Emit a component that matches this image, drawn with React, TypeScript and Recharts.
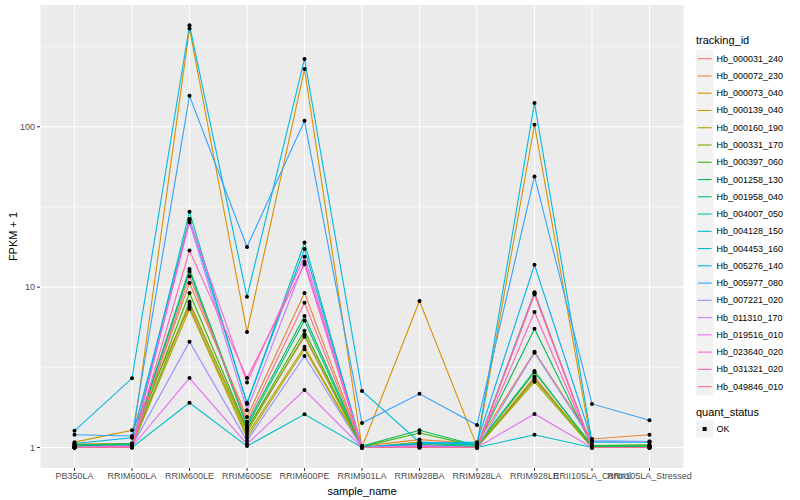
import React from 'react';
import { LineChart, Line, XAxis, YAxis, CartesianGrid } from 'recharts';

const samples = [
  'PB350LA', 'RRIM600LA', 'RRIM600LE', 'RRIM600SE', 'RRIM600PE', 'RRIM901LA',
  'RRIM928BA', 'RRIM928LA', 'RRIM928LE', 'RRII105LA_Control', 'RRII105LA_Stressed'
];

const trackingIds = [
  'Hb_000031_240', 'Hb_000072_230', 'Hb_000073_040', 'Hb_000139_040', 'Hb_000160_190',
  'Hb_000331_170', 'Hb_000397_060', 'Hb_001258_130', 'Hb_001958_040', 'Hb_004007_050',
  'Hb_004128_150', 'Hb_004453_160', 'Hb_005276_140', 'Hb_005977_080', 'Hb_007221_020',
  'Hb_011310_170', 'Hb_019516_010', 'Hb_023640_020', 'Hb_031321_020', 'Hb_049846_010'
];

// ggplot hue palette, 20 levels
const colors = [
  '#F8766D', '#EA8331', '#D89000', '#C09B00', '#A3A500', '#7CAE00', '#39B600', '#00BB4E',
  '#00BF7D', '#00C1A3', '#00BFC4', '#00BAE0', '#00B0F6', '#35A2FF', '#9590FF', '#C77CFF',
  '#E76BF3', '#FA62DB', '#FF62BC', '#FF6C91'
];

// FPKM + 1, one row per tracking id, in sample order
const fpkm: number[][] = [
  [1.02, 1.03, 7.85, 1.3, 4.9, 1.0, 1.02, 1.0, 2.77, 1.0, 1.0],
  [1.05, 1.06, 10.6, 1.55, 9.2, 1.02, 1.12, 1.06, 3.95, 1.13, 1.2],
  [1.0, 1.04, 410, 5.25, 229, 1.0, 8.2, 1.02, 103, 1.0, 1.0],
  [1.08, 1.28, 7.55, 1.2, 4.25, 1.0, 1.05, 1.0, 2.65, 1.02, 1.02],
  [1.0, 1.02, 7.3, 1.15, 4.1, 1.0, 1.03, 1.0, 2.57, 1.0, 1.0],
  [1.01, 1.02, 8.1, 1.25, 5.04, 1.0, 1.08, 1.01, 2.7, 1.01, 1.03],
  [1.03, 1.05, 9.2, 1.3, 5.35, 1.01, 1.23, 1.02, 2.95, 1.03, 1.04],
  [1.04, 1.06, 13, 1.4, 6.6, 1.02, 1.28, 1.03, 5.5, 1.02, 1.02],
  [1.02, 1.05, 12.5, 1.35, 6.2, 1.0, 1.06, 1.04, 3.0, 1.01, 1.01],
  [1.0, 1.03, 29.5, 1.87, 19, 1.0, 1.04, 1.02, 9.3, 1.0, 1.0],
  [1.0, 1.0, 1.9, 1.02, 1.61, 1.0, 1.0, 1.0, 1.2, 1.0, 1.0],
  [1.27, 2.7, 430, 8.7, 265, 2.25, 1.08, 1.05, 141, 1.08, 1.08],
  [1.06, 1.15, 26.6, 1.9, 17.3, 1.01, 1.06, 1.08, 13.8, 1.1, 1.09],
  [1.2, 1.18, 156, 17.8, 109, 1.42, 2.16, 1.38, 49, 1.87, 1.48],
  [1.01, 1.02, 4.57, 1.1, 3.72, 1.0, 1.02, 1.0, 3.9, 1.09, 1.09],
  [1.0, 1.02, 25.3, 1.71, 14.4, 1.0, 1.03, 1.0, 9.1, 1.0, 1.0],
  [1.0, 1.01, 2.71, 1.05, 2.28, 1.0, 1.01, 1.0, 1.62, 1.0, 1.0],
  [1.0, 1.01, 26, 2.54, 15.5, 1.0, 1.0, 1.0, 9.2, 1.0, 1.0],
  [1.0, 1.0, 16.9, 2.71, 13.9, 1.0, 1.0, 1.0, 7.0, 1.0, 1.0],
  [1.0, 1.0, 11.7, 1.45, 8.0, 1.0, 1.0, 1.0, 9.0, 1.0, 1.0]
];

const majorTicks = [1, 10, 100];
const minorTicks = [3.1623, 31.623, 316.23];

const data = samples.map((name, i) => {
  const row: Record<string, number | string> = { name };
  fpkm.forEach((vals, s) => { row['s' + s] = vals[i]; });
  return row;
});

const FONT = '"Liberation Sans", Arial, Helvetica, sans-serif';

const Dot = (props: any) => {
  const { cx, cy } = props;
  if (cx == null || cy == null) return null;
  return <circle cx={cx} cy={cy} r={2} fill="#000000" />;
};

export default function App() {
  return (
    <div style={{ position: 'absolute', left: 0, top: 0, width: 800, height: 500, background: '#fff', fontFamily: FONT }}>
      <LineChart width={800} height={500} data={data} margin={{ top: 5, right: 116, bottom: 0, left: 0 }}>
        <CartesianGrid fill="#EBEBEB" stroke="#FFFFFF" strokeWidth={1.07} horizontalValues={majorTicks} />
        <CartesianGrid fill="none" stroke="#FFFFFF" strokeWidth={0.53} vertical={false} horizontalValues={minorTicks} />
        <XAxis
          dataKey="name"
          height={32}
          padding={{ left: 34.5, right: 34.5 }}
          axisLine={false}
          tickSize={3}
          tickLine={{ stroke: '#333333' }}
          interval={0}
          tick={{ fontSize: 9, fill: '#4D4D4D', fontFamily: FONT }}
        />
        <YAxis
          width={40}
          scale="log"
          domain={[0.745, 575]}
          allowDataOverflow
          ticks={majorTicks}
          axisLine={false}
          tickSize={3}
          tickLine={{ stroke: '#333333' }}
          tick={{ fontSize: 9, fill: '#4D4D4D', fontFamily: FONT }}
        />
        {trackingIds.map((id, s) => (
          <Line
            key={id}
            dataKey={'s' + s}
            name={id}
            stroke={colors[s]}
            strokeWidth={1.1}
            dot={false}
            activeDot={false}
            isAnimationActive={false}
            type="linear"
          />
        ))}
        {trackingIds.map((id, s) => (
          <Line
            key={id + '_pts'}
            dataKey={'s' + s}
            stroke="none"
            dot={<Dot />}
            activeDot={false}
            legendType="none"
            isAnimationActive={false}
          />
        ))}
      </LineChart>
      <svg width={800} height={500} style={{ position: 'absolute', left: 0, top: 0, pointerEvents: 'none' }}>
        <text x={13} y={236.5} transform="rotate(-90 13 236.5)" textAnchor="middle" dominantBaseline="central" fontSize={11} fill="#000" fontFamily={FONT}>
          FPKM + 1
        </text>
        <text x={362} y={491} textAnchor="middle" dominantBaseline="central" fontSize={11} fill="#000" fontFamily={FONT}>
          sample_name
        </text>
        <text x={696} y={40} dominantBaseline="central" fontSize={11} fill="#000" fontFamily={FONT}>tracking_id</text>
        {trackingIds.map((id, s) => {
          const cy = 58.7 + s * 17.26;
          return (
            <g key={id}>
              <rect x={696} y={cy - 8.6} width={17.3} height={17.3} fill="#F2F2F2" />
              <line x1={697.7} x2={711.6} y1={cy} y2={cy} stroke={colors[s]} strokeWidth={1.1} />
              <text x={716.5} y={cy} dominantBaseline="central" fontSize={9} fill="#000" fontFamily={FONT}>{id}</text>
            </g>
          );
        })}
        <text x={696} y={412} dominantBaseline="central" fontSize={11} fill="#000" fontFamily={FONT}>quant_status</text>
        <rect x={696} y={420.4} width={17.3} height={17.3} fill="#F2F2F2" />
        <rect x={702.6} y={427} width={4} height={4} fill="#000" />
        <text x={716.5} y={429} dominantBaseline="central" fontSize={9} fill="#000" fontFamily={FONT}>OK</text>
      </svg>
    </div>
  );
}
